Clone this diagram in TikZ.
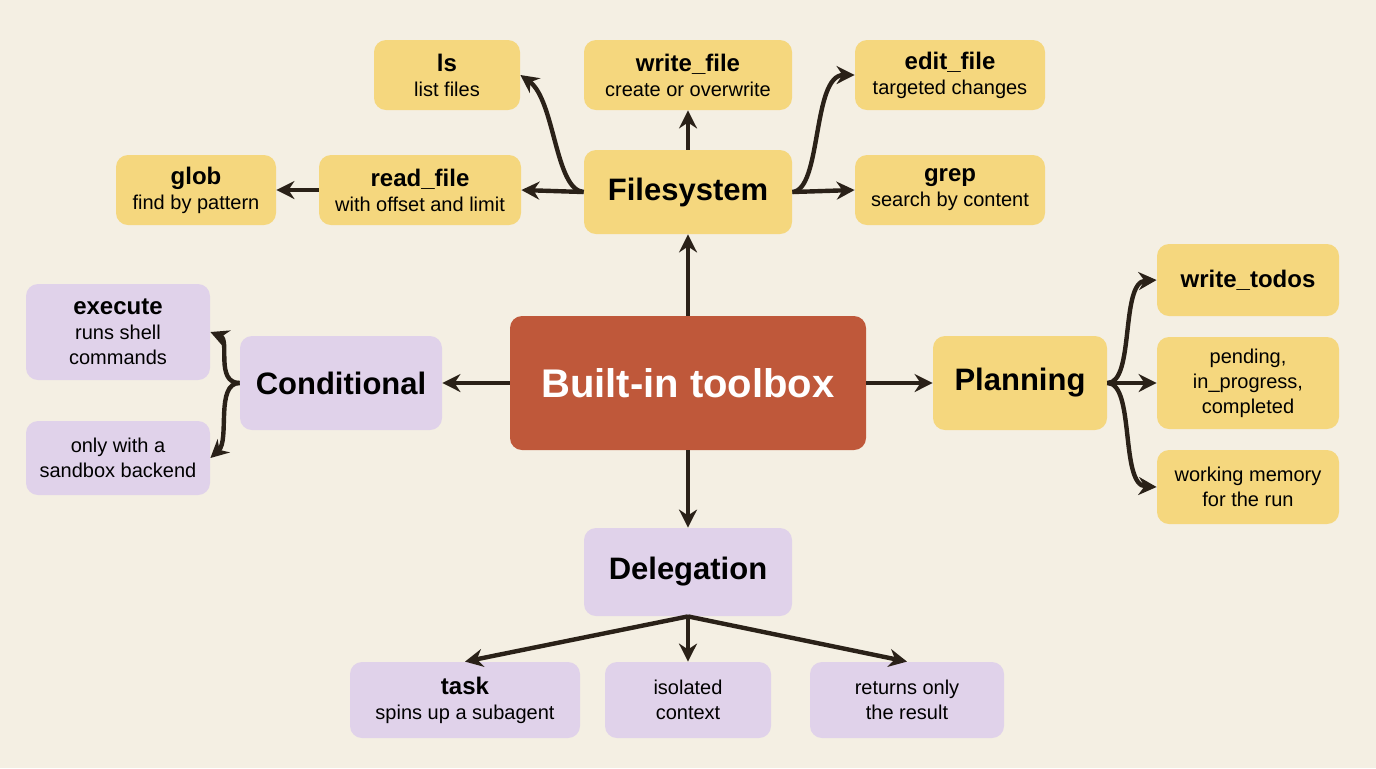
\documentclass[tikz,border=0pt]{standalone}
\usepackage{fontspec}
\setmainfont{Liberation Sans}
\usetikzlibrary{arrows.meta}
\definecolor{bg}{HTML}{F4EFE3}
\definecolor{yel}{HTML}{F5D77E}
\definecolor{pur}{HTML}{E0D2EA}
\definecolor{core}{HTML}{BF583A}
\definecolor{ink}{HTML}{2A2118}
\begin{document}
\begin{tikzpicture}[x=0.5pt,y=-0.5pt,
 box/.style={rounded corners=6pt,inner sep=0pt,align=center,text=black,font=\fontsize{10}{12.5}\selectfont},
 Y/.style={box,fill=yel},P/.style={box,fill=pur},
 big/.style={font=\fontsize{15.5}{18}\selectfont\bfseries},
 arr/.style={draw=ink,line width=2.2pt,-{Stealth[length=9pt,width=9pt]}}]
\fill[bg] (0,0) rectangle (1376,768);
\useasboundingbox (0,0) rectangle (1376,768);
\node[box,fill=core,text=white,minimum width=178pt,minimum height=67pt,font=\fontsize{20}{24}\selectfont\bfseries] (c) at (688,383) {Built-in toolbox};
\node[Y,big,minimum width=104pt,minimum height=42pt] (fs) at (688,192) {Filesystem};
\node[Y,minimum width=73pt,minimum height=35pt] (ls) at (447,75) {\textbf{\large ls}\\list files};
\node[Y,minimum width=104pt,minimum height=35pt] (wf) at (688,75) {\textbf{\large write\_file}\\create or overwrite};
\node[Y,minimum width=95pt,minimum height=35pt] (ef) at (950,75) {\textbf{\large edit\_file}\\targeted changes};
\node[Y,minimum width=101pt,minimum height=35pt] (rf) at (420,190) {\textbf{\large read\_file}\\with offset and limit};
\node[Y,minimum width=80pt,minimum height=35pt] (gl) at (196,190) {\textbf{\large glob}\\find by pattern};
\node[Y,minimum width=95pt,minimum height=35pt] (gr) at (950,190) {\textbf{\large grep}\\search by content};
\node[P,big,minimum width=101pt,minimum height=47pt] (cd) at (341,383) {Conditional};
\node[P,minimum width=92pt,minimum height=48pt] (ex) at (118,332) {\textbf{\large execute}\\runs shell\\commands};
\node[P,minimum width=92pt,minimum height=37pt] (ow) at (118,458) {only with a\\sandbox backend};
\node[Y,big,minimum width=87pt,minimum height=47pt] (pl) at (1020,383) {Planning};
\node[Y,minimum width=91pt,minimum height=36pt,font=\large\bfseries] (wt) at (1248,280) {write\_todos};
\node[Y,minimum width=91pt,minimum height=46pt] (pd) at (1248,383) {pending,\\in\_progress,\\completed};
\node[Y,minimum width=91pt,minimum height=37pt] (wm) at (1248,487) {working memory\\for the run};
\node[P,big,minimum width=104pt,minimum height=44pt] (dl) at (688,572) {Delegation};
\node[P,minimum width=115pt,minimum height=38pt] (tk) at (465,700) {\textbf{\large task}\\spins up a subagent};
\node[P,minimum width=83pt,minimum height=38pt] (is) at (688,700) {isolated\\context};
\node[P,minimum width=97pt,minimum height=38pt] (rt) at (907,700) {returns only\\the result};
\draw[arr] (c.north) -- (fs.south);
\draw[arr] (c.west) -- (cd.east);
\draw[arr] (c.east) -- (pl.west);
\draw[arr] (c.south) -- (dl.north);
\draw[arr] (fs.north) -- (wf.south);
\draw[arr] (fs.west) -- (rf.east);
\draw[arr] (rf.west) -- (gl.east);
\draw[arr] (fs.east) -- (gr.west);
\draw[arr] (fs.west) .. controls (555,190) and (555,100) .. (ls.east);
\draw[arr] (fs.east) .. controls (822,190) and (812,75) .. (ef.west);
\draw[arr] (cd.west) .. controls (215,383) and (230,340) .. (ex.east);
\draw[arr] (cd.west) .. controls (215,383) and (230,440) .. (ow.east);
\draw[arr] (pl.east) -- (pd.west);
\draw[arr] (pl.east) .. controls (1135,383) and (1120,282) .. (wt.west);
\draw[arr] (pl.east) .. controls (1135,383) and (1120,485) .. (wm.west);
\draw[arr] (dl.south) -- (is.north);
\draw[arr] (dl.south) -- (tk.north);
\draw[arr] (dl.south) -- (rt.north);
\end{tikzpicture}
\end{document}
